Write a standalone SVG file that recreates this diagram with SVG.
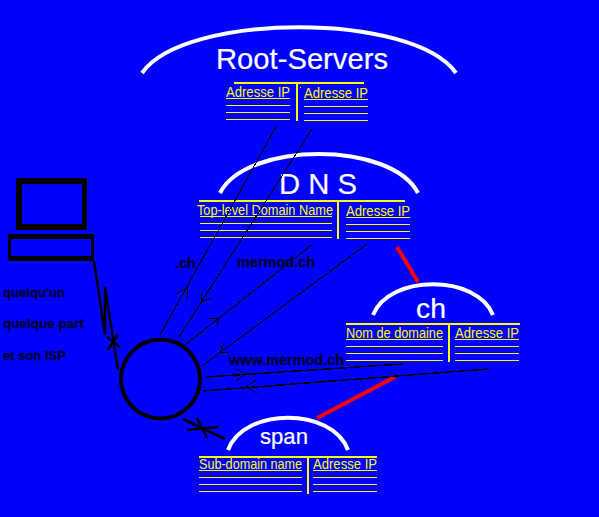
<svg xmlns="http://www.w3.org/2000/svg" width="599" height="517" viewBox="0 0 599 517">
<style>
.arc{fill:none;stroke:#fff;stroke-width:4}
.title{font-family:"Liberation Sans",Arial,sans-serif;fill:#fff;stroke:#fff;stroke-width:.2}
.cell{font-family:"Liberation Sans",Arial,sans-serif;font-size:14px;fill:#ff0}
.y1{stroke:#ff0;stroke-width:1;shape-rendering:crispEdges;fill:none}
.y2{stroke:#ff0;stroke-width:2;shape-rendering:crispEdges;fill:none}
.thin{stroke:#000;stroke-width:1;fill:none;shape-rendering:crispEdges}
.mid{stroke:#000;stroke-width:1.5;fill:none;shape-rendering:crispEdges}
.wire{stroke:#000;stroke-width:2.5;fill:none}
.red{stroke:#f00;stroke-width:4;fill:none}
.lab{font-family:"Liberation Sans",Arial,sans-serif;font-weight:bold;fill:#000030;stroke:#000030;stroke-width:.3}
</style>
<rect width="599" height="517" fill="#00f"/>
<g id="root-servers">
<path class="arc" d="M142 73C185 12 413 12 456 73"/>
<text class="title" x="216" y="69" font-size="29" textLength="172" lengthAdjust="spacingAndGlyphs">Root-Servers</text>
<path class="y2" d="M234 83H364M297 82V121"/>
<path class="y1" d="M226 98.500H290M226 105.500H290M226 112.500H290M226 119.500H290M304 99.500H368M304 106.500H368M304 113.500H368M304 120.500H368"/>
<rect x="300" y="87" width="1" height="1" fill="#ff0"/>
<text class="cell" x="226" y="97" textLength="64" lengthAdjust="spacingAndGlyphs">Adresse IP</text>
<text class="cell" x="304" y="98" textLength="64" lengthAdjust="spacingAndGlyphs">Adresse IP</text>
</g>
<g id="dns">
<path class="arc" d="M220 193C247 141 391 141 418 193"/>
<text class="title" x="279" y="194" font-size="30" textLength="78" lengthAdjust="spacingAndGlyphs">D N S</text>
<path class="y2" d="M199 201H405M338 201V239"/>
<path class="y1" d="M200 216.500H332M200 223.500H332M200 230.500H332M200 237.500H332M346 217.500H410M346 224.500H410M346 231.500H410M346 238.500H410"/>
<text class="cell" x="197" y="215" textLength="136" lengthAdjust="spacingAndGlyphs">Top-level Domain Name</text>
<text class="cell" x="346" y="216" textLength="64" lengthAdjust="spacingAndGlyphs">Adresse IP</text>
</g>
<g id="ch">
<path class="arc" d="M373 315C389 274 477 274 493 315"/>
<text class="title" x="416" y="318" font-size="27" textLength="30" lengthAdjust="spacingAndGlyphs">ch</text>
<path class="y2" d="M346 324H520M449 323V362"/>
<path class="y1" d="M346 339.500H443M346 346.500H443M346 353.500H443M346 360.500H443M455 339.500H519M455 346.500H519M455 353.500H519M455 360.500H519"/>
<text class="cell" x="346" y="338" textLength="97" lengthAdjust="spacingAndGlyphs">Nom de domaine</text>
<text class="cell" x="455" y="338" textLength="64" lengthAdjust="spacingAndGlyphs">Adresse IP</text>
</g>
<g id="span">
<path class="arc" d="M228 450C244 407 332 407 348 450"/>
<text class="title" x="260" y="444" font-size="22" textLength="48" lengthAdjust="spacingAndGlyphs">span</text>
<path class="y2" d="M199 457H377M308 457V494"/>
<path class="y1" d="M199 470.500H302M199 477.500H302M199 484.500H302M199 491.500H302M313 470.500H377M313 477.500H377M313 484.500H377M313 491.500H377"/>
<text class="cell" x="199" y="469" textLength="103" lengthAdjust="spacingAndGlyphs">Sub-domain name</text>
<text class="cell" x="313" y="469" textLength="64" lengthAdjust="spacingAndGlyphs">Adresse IP</text>
</g>
<g id="computer">
<path fill="#000" fill-rule="evenodd" d="M16 178H87V230H16ZM22 184V224H82V184Z"/>
<path fill="#000" fill-rule="evenodd" d="M8 234H94V261H8ZM11 239V256H91V239Z"/>
<text class="lab" x="3" y="297" font-size="12" textLength="62" lengthAdjust="spacingAndGlyphs">quelqu'un</text>
<text class="lab" x="3" y="328" font-size="12" textLength="81" lengthAdjust="spacingAndGlyphs">quelque part</text>
<text class="lab" x="3" y="360" font-size="12" textLength="63" lengthAdjust="spacingAndGlyphs">et son ISP</text>
</g>
<g id="isp">
<circle cx="160.500" cy="379" r="39.500" fill="none" stroke="#000" stroke-width="4"/>
</g>
<g id="connectors">
<path class="wire" d="M94 261L105 335L105 287L118 370"/>
<path class="wire" d="M107 337L120 347M108 350L118 334"/>
<path class="wire" d="M183 419L225 439M187 430L218 427M197 418L207 438"/>
<path class="red" d="M397 247L418 282"/>
<path class="red" d="M317 418L395 377"/>
<path class="thin" d="M160 335L277 125M175 294L187 288L187 299"/>
<path class="thin" d="M179 337L312 129M201 293L202 302L211 298"/>
<path class="thin" d="M185 345L313 244M208 319L219 318L217 327"/>
<path class="thin" d="M202 366L367 244M224 343L220 352L229 352"/>
<path class="mid" d="M206 377L403 364"/>
<path class="thin" d="M236 369L246 374L236 381"/>
<path class="mid" d="M203 391L488 369"/>
<path class="thin" d="M256 380L246 387L257 393"/>
<text class="lab" x="175" y="268" font-size="14" textLength="21" lengthAdjust="spacingAndGlyphs">.ch</text>
<text class="lab" x="237" y="267" font-size="14" textLength="78" lengthAdjust="spacingAndGlyphs">mermod.ch</text>
<text class="lab" x="229" y="365" font-size="14" textLength="115" lengthAdjust="spacingAndGlyphs">www.mermod.ch</text>
</g>
</svg>
